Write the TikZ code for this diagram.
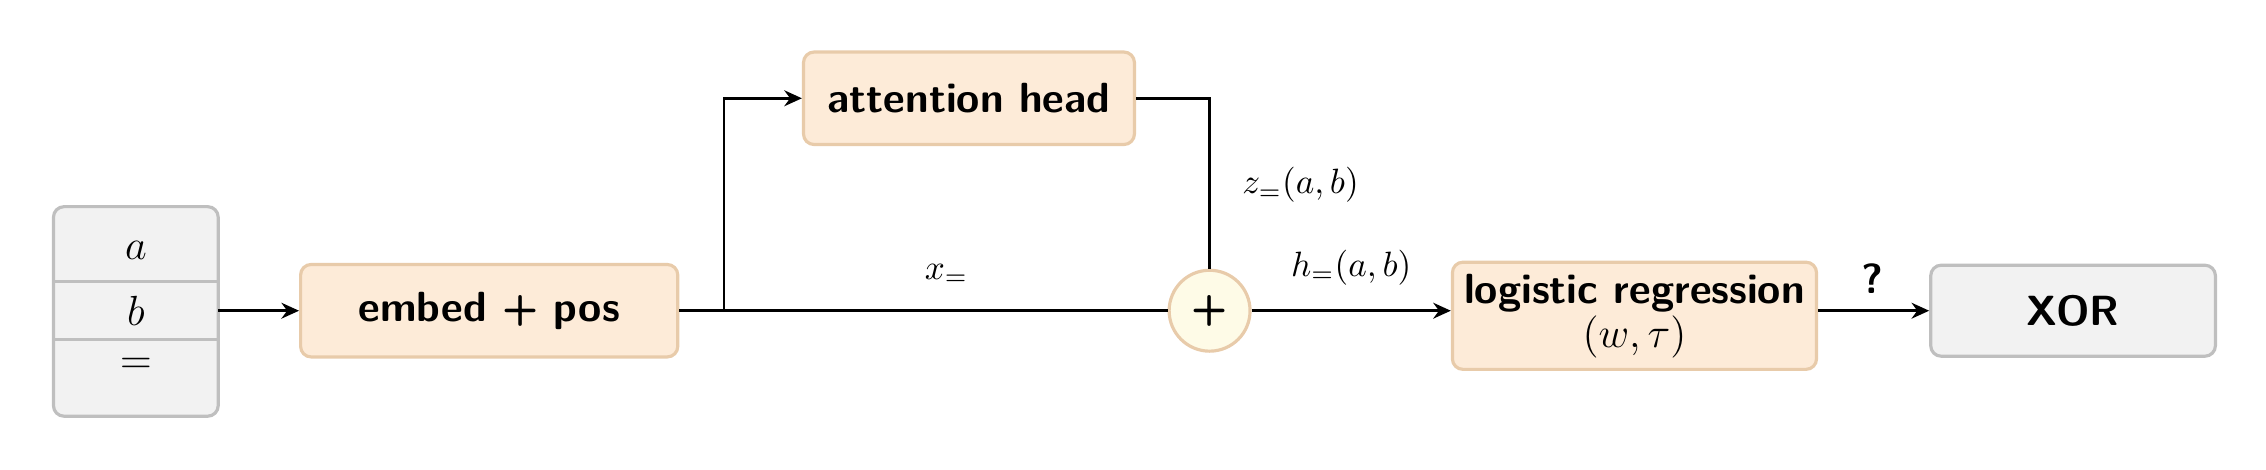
\documentclass[tikz,border=0pt]{standalone}
\usepackage{amsmath}
\usetikzlibrary{arrows.meta}
\renewcommand{\familydefault}{\sfdefault}
\begin{document}
\begin{tikzpicture}[x=0.01445cm,y=-0.01445cm,
  font=\fontsize{12}{13.5}\selectfont\bfseries,
  obox/.style={draw=orangeB,fill=orangeF,line width=0.9pt,rounded corners=3pt},
  gbox/.style={draw=greyB,fill=greyF,line width=0.9pt,rounded corners=3pt},
  conn/.style={line width=0.8pt},
  arr/.style={conn,-{Stealth[length=5pt,width=4.5pt]}}]
\definecolor{orangeF}{HTML}{FDEBD8}
\definecolor{orangeB}{HTML}{E8CBAA}
\definecolor{greyF}{HTML}{F2F2F2}
\definecolor{greyB}{HTML}{BFBFBF}
\definecolor{sumF}{HTML}{FEFBE7}
\useasboundingbox (0,0) rectangle (1568,325);
% input box
\draw[gbox] (37,143) rectangle (151,288);
\draw[greyB,line width=0.9pt] (37,195) -- (151,195) (37,235) -- (151,235);
\node (ia) at (94,173) {$a$};
\node (ib) at (94,215) {$b$};
\node (ie) at (94,253) {$=$};
\coordinate (in) at (151,215);
% boxes
\node[obox,minimum width=261*0.01445cm,minimum height=64*0.01445cm] (emb) at (338.5,215) {embed + pos};
\node[obox,minimum width=229*0.01445cm,minimum height=64*0.01445cm] (att) at (670.5,68) {attention head};
\node[draw=orangeB,fill=sumF,line width=0.9pt,circle,minimum size=56*0.01445cm,inner sep=0pt] (sum) at (837,215) {+};
\node[obox,minimum width=251*0.01445cm,minimum height=73*0.01445cm,align=center] (lr) at (1131,218.5) {logistic regression\\[-1pt]\mdseries$(w,\tau)$};
\node[gbox,minimum width=197*0.01445cm,minimum height=63*0.01445cm] (xor) at (1434.5,215) {XOR};
\coordinate (br) at (501,215);
% connectors
\draw[arr] (in) -- (emb.west);
\draw[conn] (emb.east) -- (sum.west);
\draw[arr] (br) |- (att.west);
\draw[conn] (att.east) -| (sum.north);
\draw[arr] (sum.east) -- (sum.east -| lr.west);
\draw[arr] (lr.east |- xor.west) -- (xor.west);
% labels
\node[font=\mdseries] (lx) at (655,190) {$x_{=}$};
\node[font=\mdseries] (lz) at (900,128) {$z_{=}(a,b)$};
\node[font=\mdseries] (lh) at (935,185) {$h_{=}(a,b)$};
\node (lq) at (1296,193) {?};
\end{tikzpicture}
\end{document}
